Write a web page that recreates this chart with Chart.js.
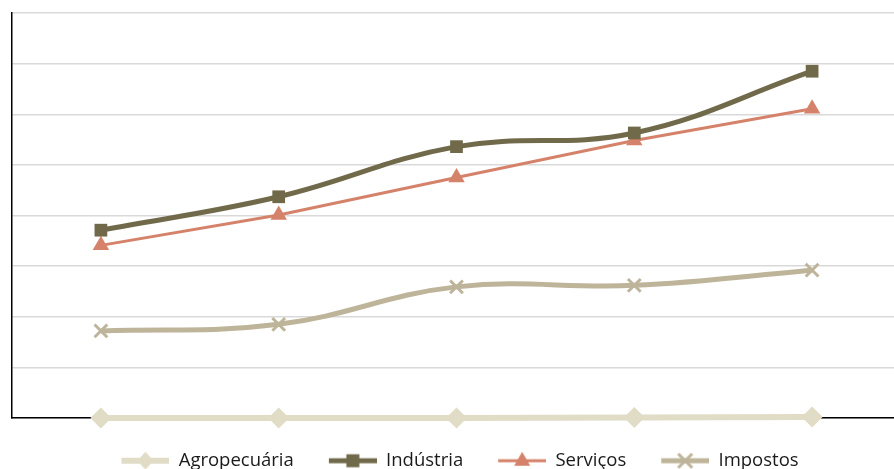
<!DOCTYPE html>
<html>
<head>
<meta charset="utf-8">
<script src="https://cdn.jsdelivr.net/npm/chart.js@4"></script>
<style>
    html, body { margin: 0; padding: 0; overflow: hidden; background: #ffffff; }
    #wrap { position: absolute; left: 0; top: 0; width: 916px; height: 480px; }
</style>
</head>
<body>
<div id="wrap"><canvas id="pib-chart"></canvas></div>
<script>
/* -------- DATA START -------- */
const categories = ["1", "2", "3", "4", "5"];
const agropecuaria = [0, 0, 0, 0.01, 0.02];
const industria = [3.71, 4.37, 5.36, 5.63, 6.85];
const servicos = [3.41, 4.01, 4.75, 5.48, 6.11];
const impostos = [1.72, 1.85, 2.59, 2.62, 2.92];
const seriesNames = ["Agropecuária", "Indústria", "Serviços", "Impostos"];
/* -------- DATA END -------- */

/* -------- STYLE START -------- */
const colors = ["#e0dcc6", "#716a4a", "#d5826a", "#bdb49a"];
const lineWidths = [6, 5, 3, 5];
const markers = ["rectRot", "rect", "triangle", "crossRot"];
const markerRadius = [10.5, 9, 9.5, 9];
const symbolGap = 8;   // transparent space left of each legend symbol
/* -------- STYLE END -------- */

/* -------- FUNCTIONS START -------- */
// small canvas with a line and marker, used as the legend symbol
function legendSymbol(i) {
    const c = document.createElement("canvas");
    c.width = symbolGap + 48;
    c.height = 24;
    const ctx = c.getContext("2d");
    ctx.strokeStyle = colors[i];
    ctx.fillStyle = colors[i];
    ctx.lineWidth = lineWidths[i];
    ctx.beginPath();
    ctx.moveTo(symbolGap, 12);
    ctx.lineTo(symbolGap + 48, 12);
    ctx.stroke();
    const cx = symbolGap + 24, cy = 12;
    ctx.beginPath();
    if (markers[i] === "rectRot") {
        ctx.moveTo(cx, cy - 9); ctx.lineTo(cx + 8, cy); ctx.lineTo(cx, cy + 9); ctx.lineTo(cx - 8, cy);
        ctx.closePath(); ctx.fill();
    } else if (markers[i] === "rect") {
        ctx.rect(cx - 6.5, cy - 6.5, 13, 13); ctx.fill();
    } else if (markers[i] === "triangle") {
        ctx.moveTo(cx, cy - 9); ctx.lineTo(cx + 8, cy + 5); ctx.lineTo(cx - 8, cy + 5);
        ctx.closePath(); ctx.fill();
    } else {
        ctx.lineWidth = 3;
        ctx.moveTo(cx - 7, cy - 7); ctx.lineTo(cx + 7, cy + 7);
        ctx.moveTo(cx + 7, cy - 7); ctx.lineTo(cx - 7, cy + 7);
        ctx.stroke();
    }
    return c;
}

function makeDataset(i, values, tension) {
    return {
        label: seriesNames[i],
        data: values,
        borderColor: colors[i],
        backgroundColor: colors[i],
        borderWidth: lineWidths[i],
        pointStyle: markers[i],
        pointRadius: markerRadius[i],
        pointBackgroundColor: colors[i],
        pointBorderColor: colors[i],
        pointBorderWidth: markers[i] === "crossRot" ? 3 : 0,
        tension: tension,
        clip: false,
    };
}
/* -------- FUNCTIONS END -------- */

/* -------- PROGRAM START -------- */
const symbols = [0, 1, 2, 3].map(legendSymbol);

new Chart(document.getElementById("pib-chart"), {
    type: "line",
    data: {
        labels: categories,
        datasets: [
            makeDataset(0, agropecuaria, 0.4),
            makeDataset(1, industria, 0.4),
            makeDataset(2, servicos, 0),
            makeDataset(3, impostos, 0.4),
        ],
    },
    options: {
        responsive: true,
        maintainAspectRatio: false,
        animation: false,
        devicePixelRatio: 1,
        layout: { padding: { left: 11, top: 13, right: 15, bottom: 0 } },
        scales: {
            x: {
                offset: true,
                grid: { display: false, drawTicks: false },
                ticks: { display: false },
                border: { display: true, color: "#000000", width: 1.5 },
                afterFit: (scale) => { scale.height = 6.5; },
            },
            y: {
                min: 0,
                max: 8,
                ticks: { display: false, stepSize: 1 },
                grid: { color: "#d9d9d9", lineWidth: 1.5, drawTicks: false },
                border: { display: true, color: "#000000", width: 1.5 },
            },
        },
        plugins: {
            tooltip: { enabled: false },
            legend: {
                position: "bottom",
                labels: {
                    usePointStyle: true,
                    pointStyleWidth: symbolGap + 48,
                    padding: 35 - symbolGap,
                    color: "#1a1a1a",
                    font: { family: "'Open Sans'", size: 18.5 },
                    generateLabels: (chart) => {
                        const items = Chart.defaults.plugins.legend.labels.generateLabels(chart);
                        items.forEach((item, i) => { item.pointStyle = symbols[i]; });
                        return items;
                    },
                },
            },
        },
    },
});
/* -------- PROGRAM END -------- */
</script>
</body>
</html>
